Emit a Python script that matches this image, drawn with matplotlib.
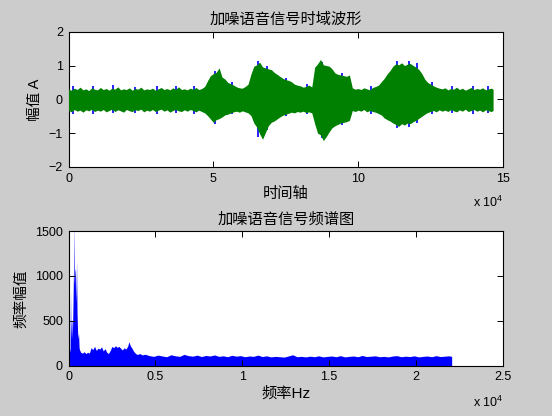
# plot.py — noisy speech signal: time-domain waveform and magnitude spectrum

import numpy as np
import matplotlib
matplotlib.use("Agg")
import matplotlib.pyplot as plt

# ── 1. Data ──────────────────────────────────────────────────────────────────
#
# The waveform is far too dense to read sample by sample, so it is kept as the
# upper / lower envelope of the green trace (sample index in units of 1e4),
# plus a few blue peaks that poke out from under it.

wave_t = [0.0, 0.1, 0.2, 0.3, 0.4, 0.5, 0.6, 0.7, 0.8, 0.9,
          1.0, 1.1, 1.2, 1.3, 1.4, 1.5, 1.6, 1.7, 1.8, 1.9,
          2.0, 2.1, 2.2, 2.3, 2.4, 2.5, 2.6, 2.7, 2.8, 2.9,
          3.0, 3.1, 3.2, 3.3, 3.4, 3.5, 3.6, 3.7, 3.8, 3.9,
          4.0, 4.1, 4.2, 4.3, 4.4, 4.5, 4.6, 4.7, 4.8, 4.9,
          5.0, 5.1, 5.2, 5.3, 5.4, 5.5, 5.6, 5.7, 5.8, 5.9,
          6.0, 6.1, 6.2, 6.3, 6.4, 6.5, 6.6, 6.7, 6.8, 6.9,
          7.0, 7.1, 7.2, 7.3, 7.4, 7.5, 7.6, 7.7, 7.8, 7.9,
          8.0, 8.1, 8.2, 8.3, 8.4, 8.5, 8.6, 8.7, 8.8, 8.9,
          9.0, 9.1, 9.2, 9.3, 9.4, 9.5, 9.6, 9.7, 9.8, 9.9,
          10.0, 10.1, 10.2, 10.3, 10.4, 10.5, 10.6, 10.7, 10.8, 10.9,
          11.0, 11.1, 11.2, 11.3, 11.4, 11.5, 11.6, 11.7, 11.8, 11.9,
          12.0, 12.1, 12.2, 12.3, 12.4, 12.5, 12.6, 12.7, 12.8, 12.9,
          13.0, 13.1, 13.2, 13.3, 13.4, 13.5, 13.6, 13.7, 13.8, 13.9,
          14.0, 14.1, 14.2, 14.3, 14.4, 14.5, 14.6, 14.66]

green_upper = [0.30, 0.27, 0.33, 0.29, 0.36, 0.28, 0.31, 0.26, 0.34, 0.30,
               0.28, 0.35, 0.29, 0.32, 0.27, 0.33, 0.30, 0.37, 0.28, 0.31,
               0.29, 0.34, 0.27, 0.32, 0.30, 0.36, 0.28, 0.31, 0.29, 0.33,
               0.27, 0.31, 0.35, 0.29, 0.32, 0.28, 0.34, 0.30, 0.37, 0.29,
               0.31, 0.28, 0.33, 0.30, 0.35, 0.29, 0.32, 0.38, 0.55, 0.70,
               0.76, 0.80, 0.93, 0.66, 0.60, 0.50, 0.46, 0.42, 0.37, 0.34,
               0.33, 0.38, 0.45, 0.75, 0.98, 1.02, 1.10, 0.96, 0.93, 0.90,
               0.88, 0.80, 0.74, 0.68, 0.62, 0.58, 0.56, 0.52, 0.45, 0.42,
               0.40, 0.36, 0.38, 0.42, 0.37, 0.95, 1.05, 1.18, 1.02, 1.00,
               0.98, 0.90, 0.78, 0.74, 0.72, 0.70, 0.68, 0.72, 0.34, 0.30,
               0.32, 0.29, 0.34, 0.31, 0.28, 0.35, 0.38, 0.42, 0.52, 0.62,
               0.75, 0.85, 0.98, 1.05, 1.02, 1.08, 1.00, 1.04, 1.06, 1.00,
               0.95, 0.88, 0.76, 0.60, 0.50, 0.45, 0.40, 0.36, 0.33, 0.31,
               0.34, 0.28, 0.32, 0.30, 0.36, 0.29, 0.33, 0.27, 0.31, 0.35,
               0.29, 0.32, 0.30, 0.34, 0.28, 0.31, 0.33, 0.30]

green_lower = [-0.33, -0.37, -0.30, -0.35, -0.32, -0.38, -0.31, -0.34, -0.29, -0.36,
               -0.32, -0.35, -0.30, -0.37, -0.33, -0.29, -0.36, -0.31, -0.34, -0.38,
               -0.30, -0.34, -0.36, -0.31, -0.33, -0.29, -0.37, -0.32, -0.35, -0.30,
               -0.36, -0.32, -0.29, -0.35, -0.31, -0.38, -0.33, -0.30, -0.34, -0.36,
               -0.31, -0.35, -0.30, -0.33, -0.37, -0.32, -0.36, -0.40, -0.48, -0.58,
               -0.68, -0.60, -0.57, -0.52, -0.46, -0.44, -0.40, -0.37, -0.35, -0.38,
               -0.34, -0.37, -0.40, -0.48, -0.70, -0.82, -1.02, -1.18, -0.98, -0.78,
               -0.68, -0.64, -0.58, -0.52, -0.47, -0.44, -0.41, -0.38, -0.40, -0.36,
               -0.38, -0.35, -0.39, -0.37, -0.40, -0.72, -1.00, -1.05, -1.22, -1.10,
               -0.96, -0.84, -0.78, -0.74, -0.70, -0.68, -0.66, -0.62, -0.33, -0.36,
               -0.32, -0.35, -0.30, -0.37, -0.33, -0.36, -0.38, -0.42, -0.46, -0.55,
               -0.60, -0.64, -0.70, -0.74, -0.80, -0.72, -0.76, -0.70, -0.72, -0.66,
               -0.62, -0.56, -0.50, -0.44, -0.39, -0.36, -0.33, -0.37, -0.31, -0.35,
               -0.32, -0.36, -0.30, -0.34, -0.37, -0.31, -0.35, -0.29, -0.36, -0.33,
               -0.30, -0.35, -0.32, -0.37, -0.31, -0.34, -0.36, -0.33]

# blue (first trace) peaks that show above / below the green trace
blue_peak_t = [0.15, 0.85, 1.55, 2.3, 3.05, 3.7, 4.35, 5.05, 5.65, 6.55,
               6.85, 7.5, 8.25, 8.75, 9.45, 10.45, 11.35, 11.75, 12.05,
               12.55, 13.25, 13.95, 14.5]
blue_peak_hi = [0.40, 0.38, 0.41, 0.37, 0.39, 0.40, 0.38, 0.84, 0.52, 1.12,
                1.00, 0.62, 0.44, 1.10, 0.78, 0.39, 1.12, 1.12, 1.06, 0.50,
                0.40, 0.38, 0.39]
blue_peak_lo = [-0.42, -0.44, -0.40, -0.41, -0.43, -0.39, -0.42, -0.72, -0.44,
                -1.10, -0.90, -0.50, -0.44, -1.15, -0.76, -0.42, -0.84, -0.82,
                -0.70, -0.44, -0.41, -0.43, -0.40]

# spectrum envelope: frequency (Hz) and peak magnitude
spec_f = [0, 25, 60, 90, 116, 140, 170, 193, 220, 260,
          290, 310, 330, 360, 387, 410, 440, 464, 490, 522,
          550, 580, 610, 640, 700, 800, 900, 1000, 1100, 1200,
          1300, 1400, 1500, 1600, 1700, 1800, 1900, 2000, 2100, 2200,
          2300, 2400, 2500, 2600, 2700, 2800, 2900, 3000, 3100, 3200,
          3300, 3400, 3480, 3550, 3650, 3750, 3850, 3950, 4100, 4250,
          4400, 4650, 4900, 5150, 5400, 5650, 5900, 6150, 6400, 6650,
          6900, 7150, 7400, 7650, 7900, 8150, 8400, 8650, 8900, 9150,
          9400, 9650, 9900, 10150, 10400, 10650, 10900, 11150, 11400, 11650,
          11900, 12150, 12400, 12650, 12900, 13150, 13400, 13650, 13900, 14150,
          14400, 14650, 14900, 15150, 15400, 15650, 15900, 16150, 16400, 16650,
          16900, 17150, 17400, 17650, 17900, 18150, 18400, 18650, 18900, 19150,
          19400, 19650, 19900, 20150, 20400, 20650, 20900, 21150, 21400, 21650,
          21900, 22050]

spec_mag = [650, 180, 190, 150, 830, 300, 520, 490, 300, 700,
            1100, 1600, 900, 1050, 1083, 700, 900, 1165, 600, 378,
            300, 360, 200, 175, 150, 140, 155, 135, 150, 140,
            200, 180, 215, 170, 195, 185, 210, 165, 190, 150,
            135, 170, 215, 200, 222, 205, 215, 195, 175, 200,
            185, 215, 267, 225, 195, 160, 138, 125, 135, 120,
            128, 112, 104, 118, 108, 100, 122, 110, 104, 126,
            112, 106, 118, 102, 114, 108, 120, 104, 110, 100,
            116, 106, 112, 100, 108, 104, 118, 102, 110, 98,
            104, 100, 96, 108, 122, 100, 104, 98, 106, 100,
            110, 98, 104, 108, 100, 112, 98, 104, 108, 100,
            114, 102, 106, 110, 100, 104, 98, 108, 112, 100,
            106, 102, 110, 98, 104, 108, 100, 112, 102, 106,
            110, 104]

# ── 2. Figure setup (MATLAB-like look) ───────────────────────────────────────

plt.rcParams["font.family"] = ["Liberation Sans", "Noto Sans CJK SC"]
plt.rcParams["mathtext.default"] = "regular"

BG = "#cccccc"
fig = plt.figure(figsize=(5.52, 4.16), dpi=100, facecolor=BG)

ax1 = fig.add_axes([0.1241, 0.5986, 0.787, 0.3252])
ax2 = fig.add_axes([0.1241, 0.1209, 0.787, 0.3238])


def matlab_style(ax):
    ax.set_facecolor("white")
    for s in ax.spines.values():
        s.set_linewidth(0.8)
        s.set_color("black")
    ax.tick_params(direction="in", length=4, width=0.7, top=True, right=True,
                   labelsize=9, pad=4, colors="black")


# ── 3. Time-domain waveform ──────────────────────────────────────────────────

# blue peaks go underneath, green trace is drawn on top
ax1.vlines(np.array(blue_peak_t) * 1e4, blue_peak_lo, blue_peak_hi,
           color="#0000ff", lw=1.2, zorder=2)
ax1.fill_between(np.array(wave_t) * 1e4, green_lower, green_upper,
                 color="#008000", lw=0, zorder=3)

ax1.set_xlim(0, 15e4)
ax1.set_ylim(-2, 2)
ax1.set_xticks([0, 5e4, 10e4, 15e4])
ax1.set_xticklabels(["0", "5", "10", "15"])
ax1.set_yticks([-2, -1, 0, 1, 2])
matlab_style(ax1)
ax1.set_title("加噪语音信号时域波形", fontsize=11, pad=6)
ax1.set_xlabel("时间轴", fontsize=11, labelpad=2)
ax1.set_ylabel("幅值 A", fontsize=10.5, labelpad=5)
ax1.text(1.0, -0.26, "x 10$^4$", transform=ax1.transAxes, ha="right",
         va="center", fontsize=9)

# ── 4. Spectrum ──────────────────────────────────────────────────────────────

ax2.fill_between(spec_f, 0, spec_mag, color="#0000ff", lw=0)

ax2.set_xlim(0, 2.5e4)
ax2.set_ylim(0, 1500)
ax2.set_xticks([0, 0.5e4, 1e4, 1.5e4, 2e4, 2.5e4])
ax2.set_xticklabels(["0", "0.5", "1", "1.5", "2", "2.5"])
ax2.set_yticks([0, 500, 1000, 1500])
matlab_style(ax2)
ax2.set_title("加噪语音信号频谱图", fontsize=11, pad=5)
ax2.set_xlabel("频率Hz", fontsize=11, labelpad=2)
ax2.set_ylabel("频率幅值", fontsize=10.5, labelpad=5)
ax2.text(1.0, -0.27, "x 10$^4$", transform=ax2.transAxes, ha="right",
         va="center", fontsize=9)

# ── 5. Save ──────────────────────────────────────────────────────────────────

fig.savefig("out.png", dpi=100, facecolor=BG)
